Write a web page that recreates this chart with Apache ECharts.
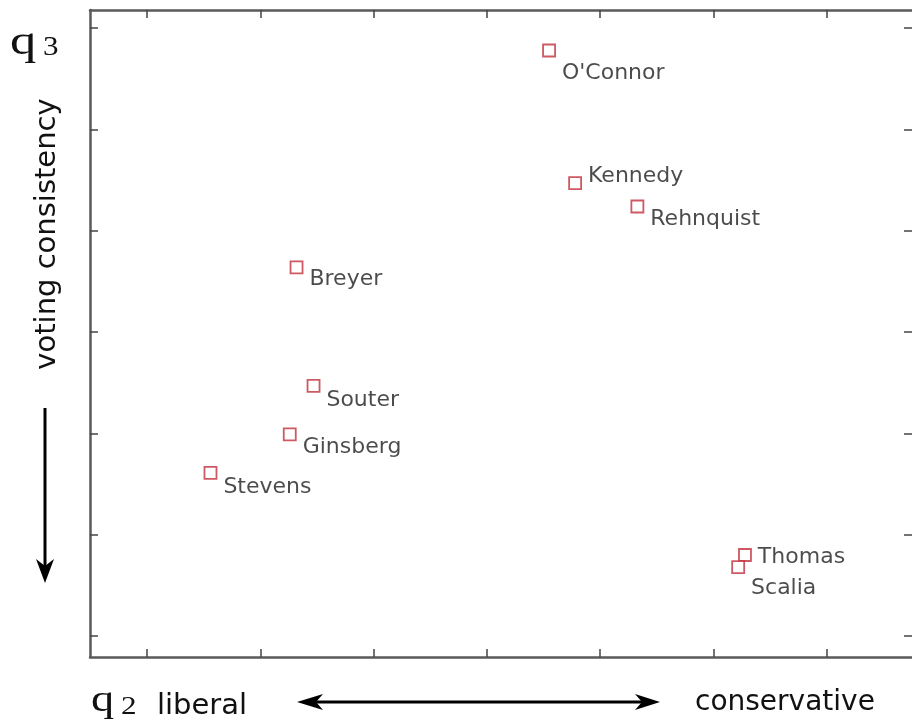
<!DOCTYPE html>
<html>
<head>
<meta charset="utf-8">
<script src="https://cdn.jsdelivr.net/npm/echarts@6/dist/echarts.min.js"></script>
<style>
html,body{margin:0;padding:0;background:#fff;}
#chart{width:912px;height:720px;}
</style>
</head>
<body>
<div id="chart"></div>
<script>
// ---- data ----
const justices = ["O'Connor", "Kennedy", "Rehnquist", "Breyer", "Souter", "Ginsberg", "Stevens", "Thomas", "Scalia"];
const q2Values = [3.55, 3.78, 4.33, 1.32, 1.47, 1.26, 0.56, 5.28, 5.22];
const q3Values = [5.78, 4.47, 4.24, 3.64, 2.47, 1.99, 1.61, 0.80, 0.68];
const xTickValues = [0, 1, 2, 3, 4, 5, 6];
const yTickValues = [0, 1, 2, 3, 4, 5, 6];

// ---- layout (label vertical shifts, px) ----
const labelDy = {"O'Connor": 23, "Kennedy": -7, "Rehnquist": 13, "Breyer": 12, "Souter": 14,
  "Ginsberg": 13, "Stevens": 14, "Thomas": 2, "Scalia": 21};

const X_MIN = -0.504, X_MAX = 6.755, Y_MIN = -0.207, Y_MAX = 6.18;
const axisLineStyle = {color: '#5a5a5a', width: 2.5};
const tickStyle = {color: '#444', width: 1.5};

function xAxisDef(pos, showLine) {
  return {
    type: 'value', position: pos, min: X_MIN, max: X_MAX,
    axisLine: {show: showLine, onZero: false, lineStyle: axisLineStyle},
    axisTick: {show: true, inside: true, length: 8, lineStyle: tickStyle, customValues: xTickValues},
    axisLabel: {show: false}, splitLine: {show: false}
  };
}
function yAxisDef(pos, showLine) {
  return {
    type: 'value', position: pos, min: Y_MIN, max: Y_MAX,
    axisLine: {show: showLine, onZero: false, lineStyle: axisLineStyle},
    axisTick: {show: true, inside: true, length: 8, lineStyle: tickStyle, customValues: yTickValues},
    axisLabel: {show: false}, splitLine: {show: false}
  };
}

const points = justices.map((n, i) => ({
  name: n, value: [q2Values[i], q3Values[i]],
  label: {offset: [0, labelDy[n]]}
}));

function txt(text, x, y, font, opts) {
  return Object.assign({type: 'text', x: x, y: y,
    style: {text: text, x: 0, y: 0, font: font, fill: '#111', align: 'left', verticalAlign: 'middle'}}, opts || {});
}

const chart = echarts.init(document.getElementById('chart'), null, {renderer: 'canvas'});
chart.setOption({
  animation: false,
  backgroundColor: '#fff',
  grid: {left: 90, right: 0, top: 10, bottom: 63},
  xAxis: [xAxisDef('bottom', true), xAxisDef('top', true)],
  yAxis: [yAxisDef('left', true), yAxisDef('right', false)],
  series: [{
    type: 'scatter', xAxisIndex: 0, yAxisIndex: 0,
    symbol: 'rect', symbolSize: 12,
    itemStyle: {color: '#fff', borderColor: '#c0303c', borderWidth: 1.8},
    label: {show: true, position: 'right', distance: 6, formatter: '{b}',
      fontFamily: 'DejaVu Sans', fontSize: 22, color: '#1e1e1e'},
    data: points
  }],
  graphic: [
    txt('q', 10, 43, '42px "Liberation Serif"', {scaleX: 1.25}),
    txt('3', 43, 48, '27px "Liberation Serif"', {scaleX: 1.15}),
    txt('q', 91, 701, '37px "Liberation Serif"', {scaleX: 1.25}),
    txt('2', 121, 707, '26px "Liberation Serif"', {scaleX: 1.2}),
    txt('liberal', 157, 706, '29px "DejaVu Sans"'),
    txt('conservative', 695, 703, '28px "DejaVu Sans"'),
    {type: 'text', rotation: Math.PI / 2, x: 47, y: 234,
      style: {text: 'voting consistency', x: 0, y: 0, font: '29px "DejaVu Sans"', fill: '#111', align: 'center', verticalAlign: 'middle'}},
    // horizontal double arrow
    {type: 'line', shape: {x1: 312, y1: 702, x2: 645, y2: 702}, style: {stroke: '#000', lineWidth: 3}},
    {type: 'polygon', shape: {points: [[297, 702], [323, 694], [316, 702], [323, 710]]}, style: {fill: '#000'}},
    {type: 'polygon', shape: {points: [[660, 702], [635, 694], [642, 702], [635, 710]]}, style: {fill: '#000'}},
    // vertical down arrow
    {type: 'line', shape: {x1: 45, y1: 408, x2: 45, y2: 568}, style: {stroke: '#000', lineWidth: 3}},
    {type: 'polygon', shape: {points: [[45, 583], [36, 559], [45, 566], [54, 559]]}, style: {fill: '#000'}}
  ]
});
</script>
</body>
</html>
